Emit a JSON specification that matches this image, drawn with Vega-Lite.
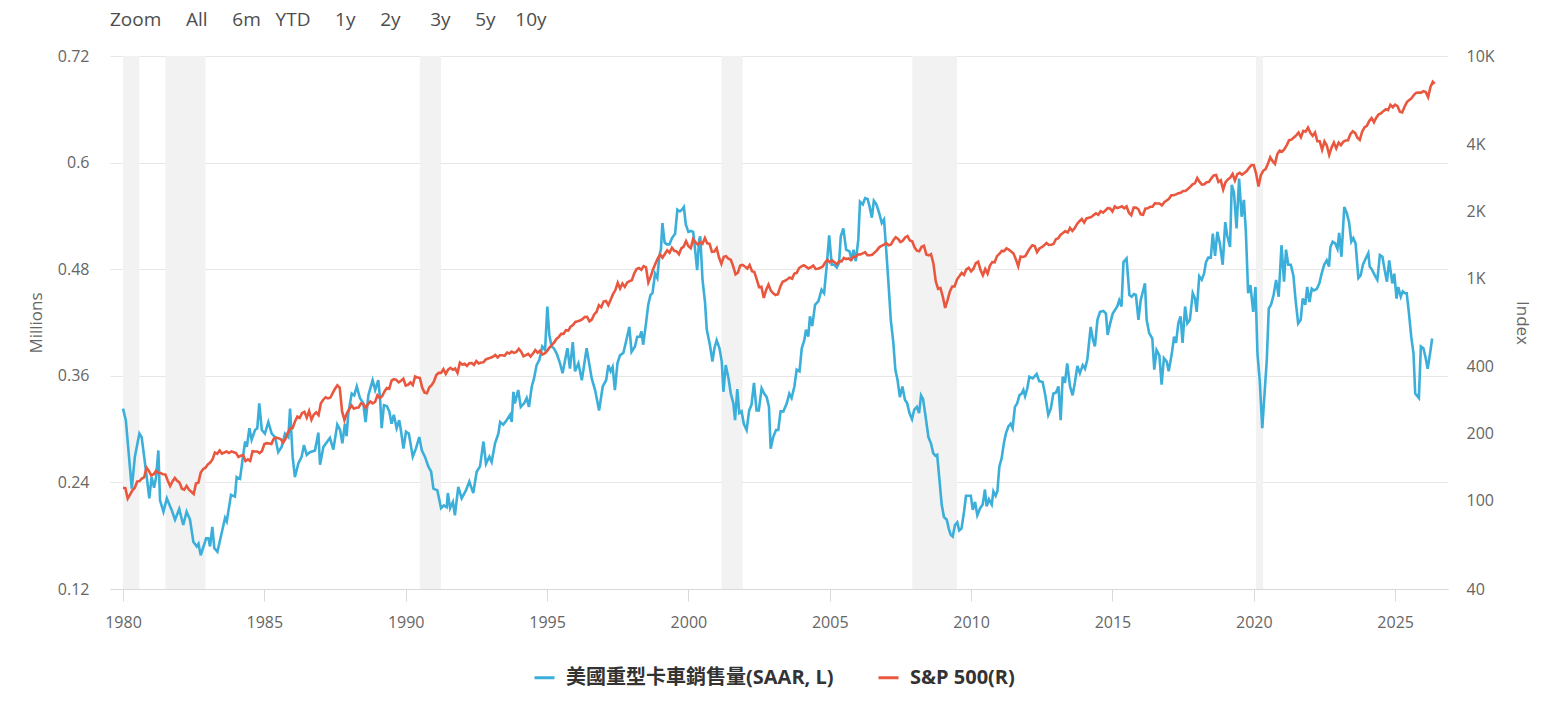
{
  "$schema": "https://vega.github.io/schema/vega-lite/v6.json",
  "width": 1338,
  "height": 533,
  "autosize": {"type": "none"},
  "padding": {"left": 110, "top": 56, "right": 101, "bottom": 119},
  "background": "white",
  "config": {
    "view": {"stroke": null},
    "font": "Open Sans",
    "axis": {
      "labelFont": "Open Sans",
      "titleFont": "Open Sans",
      "labelColor": "#666666",
      "titleColor": "#666666",
      "labelFontSize": 16,
      "titleFontSize": 17,
      "titleFontWeight": "normal"
    }
  },
  "title": {
    "text": "Zoom\u00a0\u00a0\u00a0\u00a0\u00a0All\u00a0\u00a0\u00a0\u00a0\u00a06m\u00a0\u00a0\u00a0YTD\u00a0\u00a0\u00a0\u00a0\u00a01y\u00a0\u00a0\u00a0\u00a0\u00a02y\u00a0\u00a0\u00a0\u00a0\u00a0\u00a03y\u00a0\u00a0\u00a0\u00a0\u00a05y\u00a0\u00a0\u00a0\u00a010y",
    "anchor": "start",
    "frame": "group",
    "font": "Open Sans",
    "fontSize": 19,
    "fontWeight": "normal",
    "color": "#4d4d4d",
    "offset": 18
  },
  "datasets": {
    "rec": [
      {"s": 1980.0, "e": 1980.58},
      {"s": 1981.5, "e": 1982.92},
      {"s": 1990.5, "e": 1991.25},
      {"s": 2001.17, "e": 2001.92},
      {"s": 2007.92, "e": 2009.5},
      {"s": 2020.08, "e": 2020.33}
    ],
    "truck": [
      {"t":1980.00,"v":0.323},{"t":1980.10,"v":0.310},{"t":1980.31,"v":0.233},{"t":1980.42,"v":0.269},{"t":1980.58,"v":0.295},{"t":1980.66,"v":0.291},{"t":1980.84,"v":0.246},{"t":1980.93,"v":0.222},{"t":1981.01,"v":0.246},{"t":1981.10,"v":0.234},{"t":1981.17,"v":0.246},{"t":1981.25,"v":0.276},{"t":1981.31,"v":0.220},{"t":1981.43,"v":0.207},{"t":1981.55,"v":0.222},{"t":1981.72,"v":0.209},{"t":1981.84,"v":0.198},{"t":1981.99,"v":0.210},{"t":1982.13,"v":0.192},{"t":1982.25,"v":0.207},{"t":1982.37,"v":0.198},{"t":1982.49,"v":0.173},{"t":1982.61,"v":0.168},{"t":1982.67,"v":0.171},{"t":1982.75,"v":0.158},{"t":1982.94,"v":0.177},{"t":1983.02,"v":0.177},{"t":1983.08,"v":0.168},{"t":1983.16,"v":0.190},{"t":1983.23,"v":0.166},{"t":1983.34,"v":0.162},{"t":1983.49,"v":0.183},{"t":1983.61,"v":0.200},{"t":1983.67,"v":0.196},{"t":1983.82,"v":0.226},{"t":1983.96,"v":0.224},
      {"t":1984.02,"v":0.246},{"t":1984.14,"v":0.244},{"t":1984.23,"v":0.266},{"t":1984.32,"v":0.286},{"t":1984.38,"v":0.280},{"t":1984.47,"v":0.301},{"t":1984.55,"v":0.288},{"t":1984.67,"v":0.299},{"t":1984.75,"v":0.301},{"t":1984.82,"v":0.329},{"t":1984.91,"v":0.299},{"t":1985.02,"v":0.295},{"t":1985.14,"v":0.308},{"t":1985.26,"v":0.295},{"t":1985.38,"v":0.291},{"t":1985.49,"v":0.274},{"t":1985.61,"v":0.280},{"t":1985.73,"v":0.295},{"t":1985.85,"v":0.291},{"t":1985.91,"v":0.323},{"t":1986.00,"v":0.269},{"t":1986.08,"v":0.246},{"t":1986.20,"v":0.261},{"t":1986.32,"v":0.269},{"t":1986.40,"v":0.282},{"t":1986.50,"v":0.271},{"t":1986.61,"v":0.274},{"t":1986.79,"v":0.276},{"t":1986.91,"v":0.296},{"t":1986.97,"v":0.260},{"t":1987.09,"v":0.280},{"t":1987.32,"v":0.290},{"t":1987.44,"v":0.277},{"t":1987.58,"v":0.305},{"t":1987.68,"v":0.299},
      {"t":1987.76,"v":0.284},{"t":1987.85,"v":0.306},{"t":1987.91,"v":0.292},{"t":1987.97,"v":0.318},{"t":1988.09,"v":0.340},{"t":1988.18,"v":0.338},{"t":1988.27,"v":0.348},{"t":1988.38,"v":0.335},{"t":1988.50,"v":0.329},{"t":1988.58,"v":0.308},{"t":1988.68,"v":0.338},{"t":1988.83,"v":0.355},{"t":1988.92,"v":0.344},{"t":1989.03,"v":0.355},{"t":1989.09,"v":0.336},{"t":1989.15,"v":0.301},{"t":1989.23,"v":0.327},{"t":1989.33,"v":0.326},{"t":1989.42,"v":0.320},{"t":1989.50,"v":0.306},{"t":1989.58,"v":0.316},{"t":1989.68,"v":0.301},{"t":1989.77,"v":0.310},{"t":1989.83,"v":0.299},{"t":1989.92,"v":0.278},{"t":1990.01,"v":0.297},{"t":1990.11,"v":0.295},{"t":1990.25,"v":0.269},{"t":1990.36,"v":0.278},{"t":1990.48,"v":0.291},{"t":1990.57,"v":0.276},{"t":1990.68,"v":0.269},{"t":1990.80,"v":0.258},{"t":1990.90,"v":0.252},{"t":1990.98,"v":0.233},{"t":1991.12,"v":0.231},{"t":1991.25,"v":0.211},{"t":1991.35,"v":0.214},{"t":1991.45,"v":0.212},{"t":1991.49,"v":0.228},{"t":1991.57,"v":0.211},{"t":1991.67,"v":0.218},{"t":1991.74,"v":0.203},{"t":1991.86,"v":0.235},{"t":1991.98,"v":0.222},
      {"t":1992.13,"v":0.231},{"t":1992.25,"v":0.241},{"t":1992.39,"v":0.228},{"t":1992.51,"v":0.252},{"t":1992.63,"v":0.258},{"t":1992.75,"v":0.286},{"t":1992.84,"v":0.261},{"t":1992.96,"v":0.269},{"t":1993.04,"v":0.263},{"t":1993.16,"v":0.284},{"t":1993.28,"v":0.295},{"t":1993.34,"v":0.308},{"t":1993.45,"v":0.305},{"t":1993.57,"v":0.310},{"t":1993.69,"v":0.316},{"t":1993.75,"v":0.308},{"t":1993.81,"v":0.342},{"t":1993.86,"v":0.329},{"t":1993.98,"v":0.344},{"t":1994.07,"v":0.325},{"t":1994.19,"v":0.329},{"t":1994.28,"v":0.335},{"t":1994.36,"v":0.325},{"t":1994.46,"v":0.348},{"t":1994.54,"v":0.357},{"t":1994.63,"v":0.372},{"t":1994.73,"v":0.378},{"t":1994.83,"v":0.393},{"t":1994.93,"v":0.389},{"t":1995.01,"v":0.438},{"t":1995.08,"v":0.406},{"t":1995.16,"v":0.393},{"t":1995.24,"v":0.391},{"t":1995.34,"v":0.385},{"t":1995.46,"v":0.374},{"t":1995.55,"v":0.363},{"t":1995.64,"v":0.378},{"t":1995.72,"v":0.391},{"t":1995.81,"v":0.368},{"t":1995.91,"v":0.398},{"t":1995.99,"v":0.365},
      {"t":1996.11,"v":0.374},{"t":1996.23,"v":0.355},{"t":1996.40,"v":0.391},{"t":1996.58,"v":0.357},{"t":1996.70,"v":0.344},{"t":1996.84,"v":0.321},{"t":1996.97,"v":0.348},{"t":1997.09,"v":0.355},{"t":1997.17,"v":0.372},{"t":1997.25,"v":0.365},{"t":1997.32,"v":0.370},{"t":1997.40,"v":0.344},{"t":1997.49,"v":0.374},{"t":1997.58,"v":0.383},{"t":1997.70,"v":0.386},{"t":1997.79,"v":0.398},{"t":1997.91,"v":0.415},{"t":1997.99,"v":0.387},{"t":1998.11,"v":0.393},{"t":1998.19,"v":0.404},{"t":1998.28,"v":0.404},{"t":1998.34,"v":0.410},{"t":1998.40,"v":0.395},{"t":1998.50,"v":0.419},{"t":1998.58,"v":0.440},{"t":1998.66,"v":0.451},{"t":1998.73,"v":0.453},{"t":1998.82,"v":0.475},{"t":1998.90,"v":0.470},{"t":1998.97,"v":0.494},{"t":1999.03,"v":0.503},{"t":1999.08,"v":0.532},{"t":1999.16,"v":0.510},{"t":1999.24,"v":0.508},{"t":1999.33,"v":0.508},{"t":1999.42,"v":0.515},{"t":1999.53,"v":0.520},{"t":1999.61,"v":0.547},{"t":1999.70,"v":0.545},{"t":1999.77,"v":0.547},{"t":1999.84,"v":0.550},{"t":1999.91,"v":0.530},
      {"t":2000.00,"v":0.522},{"t":2000.08,"v":0.523},{"t":2000.17,"v":0.522},{"t":2000.23,"v":0.504},{"t":2000.31,"v":0.479},{"t":2000.38,"v":0.513},{"t":2000.42,"v":0.517},{"t":2000.50,"v":0.468},{"t":2000.59,"v":0.442},{"t":2000.65,"v":0.412},{"t":2000.76,"v":0.395},{"t":2000.85,"v":0.376},{"t":2000.92,"v":0.391},{"t":2001.00,"v":0.400},{"t":2001.10,"v":0.391},{"t":2001.18,"v":0.376},{"t":2001.24,"v":0.342},{"t":2001.32,"v":0.372},{"t":2001.42,"v":0.357},{"t":2001.50,"v":0.340},{"t":2001.59,"v":0.329},{"t":2001.65,"v":0.310},{"t":2001.73,"v":0.345},{"t":2001.80,"v":0.318},{"t":2001.88,"v":0.320},{"t":2001.96,"v":0.306},{"t":2002.06,"v":0.299},{"t":2002.15,"v":0.321},{"t":2002.23,"v":0.327},{"t":2002.32,"v":0.352},{"t":2002.41,"v":0.321},{"t":2002.49,"v":0.321},{"t":2002.59,"v":0.346},{"t":2002.68,"v":0.340},{"t":2002.77,"v":0.336},{"t":2002.85,"v":0.325},{"t":2002.91,"v":0.278},{"t":2003.00,"v":0.291},{"t":2003.10,"v":0.299},{"t":2003.18,"v":0.299},{"t":2003.26,"v":0.320},{"t":2003.36,"v":0.320},{"t":2003.48,"v":0.329},{"t":2003.57,"v":0.340},{"t":2003.65,"v":0.335},{"t":2003.75,"v":0.348},{"t":2003.83,"v":0.367},{"t":2003.93,"v":0.365},
      {"t":2004.01,"v":0.391},{"t":2004.10,"v":0.400},{"t":2004.16,"v":0.412},{"t":2004.24,"v":0.404},{"t":2004.30,"v":0.427},{"t":2004.38,"v":0.416},{"t":2004.48,"v":0.440},{"t":2004.60,"v":0.444},{"t":2004.71,"v":0.457},{"t":2004.80,"v":0.453},{"t":2004.89,"v":0.483},{"t":2004.98,"v":0.518},{"t":2005.07,"v":0.485},{"t":2005.16,"v":0.485},{"t":2005.25,"v":0.482},{"t":2005.33,"v":0.487},{"t":2005.39,"v":0.517},{"t":2005.48,"v":0.526},{"t":2005.58,"v":0.502},{"t":2005.70,"v":0.500},{"t":2005.78,"v":0.490},{"t":2005.84,"v":0.502},{"t":2005.92,"v":0.489},{"t":2006.01,"v":0.513},{"t":2006.07,"v":0.556},{"t":2006.17,"v":0.553},{"t":2006.25,"v":0.560},{"t":2006.34,"v":0.559},{"t":2006.42,"v":0.549},{"t":2006.49,"v":0.538},{"t":2006.56,"v":0.557},{"t":2006.65,"v":0.553},{"t":2006.75,"v":0.543},{"t":2006.84,"v":0.532},{"t":2006.92,"v":0.536},{"t":2006.99,"v":0.505},{"t":2007.07,"v":0.468},{"t":2007.16,"v":0.423},{"t":2007.25,"v":0.397},{"t":2007.32,"v":0.367},{"t":2007.40,"v":0.355},{"t":2007.48,"v":0.336},{"t":2007.57,"v":0.348},{"t":2007.66,"v":0.333},{"t":2007.74,"v":0.329},{"t":2007.82,"v":0.318},{"t":2007.91,"v":0.311},{"t":2007.99,"v":0.322},
      {"t":2008.08,"v":0.325},{"t":2008.16,"v":0.318},{"t":2008.23,"v":0.338},{"t":2008.30,"v":0.334},{"t":2008.40,"v":0.312},{"t":2008.49,"v":0.291},{"t":2008.58,"v":0.284},{"t":2008.66,"v":0.273},{"t":2008.74,"v":0.270},{"t":2008.80,"v":0.271},{"t":2008.88,"v":0.243},{"t":2008.96,"v":0.215},{"t":2009.04,"v":0.201},{"t":2009.14,"v":0.198},{"t":2009.21,"v":0.188},{"t":2009.28,"v":0.181},{"t":2009.35,"v":0.179},{"t":2009.43,"v":0.192},{"t":2009.51,"v":0.195},{"t":2009.58,"v":0.186},{"t":2009.66,"v":0.188},{"t":2009.75,"v":0.207},{"t":2009.82,"v":0.225},{"t":2009.90,"v":0.225},{"t":2009.99,"v":0.225},{"t":2010.06,"v":0.209},{"t":2010.14,"v":0.218},{"t":2010.22,"v":0.203},{"t":2010.32,"v":0.211},{"t":2010.41,"v":0.215},{"t":2010.49,"v":0.232},{"t":2010.55,"v":0.213},{"t":2010.63,"v":0.221},{"t":2010.73,"v":0.215},{"t":2010.79,"v":0.230},{"t":2010.87,"v":0.225},{"t":2010.93,"v":0.230},{"t":2011.00,"v":0.258},{"t":2011.08,"v":0.267},{"t":2011.16,"v":0.284},{"t":2011.23,"v":0.295},{"t":2011.32,"v":0.303},{"t":2011.40,"v":0.306},{"t":2011.47,"v":0.301},{"t":2011.55,"v":0.325},{"t":2011.63,"v":0.329},{"t":2011.71,"v":0.338},{"t":2011.79,"v":0.340},{"t":2011.85,"v":0.344},{"t":2011.91,"v":0.337},{"t":2011.99,"v":0.346},
      {"t":2012.06,"v":0.359},{"t":2012.18,"v":0.357},{"t":2012.32,"v":0.362},{"t":2012.41,"v":0.354},{"t":2012.53,"v":0.353},{"t":2012.62,"v":0.339},{"t":2012.73,"v":0.316},{"t":2012.82,"v":0.323},{"t":2012.91,"v":0.340},{"t":2013.00,"v":0.341},{"t":2013.09,"v":0.348},{"t":2013.17,"v":0.310},{"t":2013.24,"v":0.359},{"t":2013.32,"v":0.352},{"t":2013.40,"v":0.374},{"t":2013.50,"v":0.348},{"t":2013.59,"v":0.338},{"t":2013.67,"v":0.352},{"t":2013.76,"v":0.371},{"t":2013.85,"v":0.363},{"t":2013.95,"v":0.372},{"t":2014.03,"v":0.368},{"t":2014.11,"v":0.378},{"t":2014.23,"v":0.415},{"t":2014.31,"v":0.401},{"t":2014.38,"v":0.393},{"t":2014.47,"v":0.423},{"t":2014.56,"v":0.432},{"t":2014.68,"v":0.433},{"t":2014.77,"v":0.430},{"t":2014.83,"v":0.406},{"t":2014.92,"v":0.419},{"t":2015.01,"v":0.430},{"t":2015.09,"v":0.434},{"t":2015.17,"v":0.438},{"t":2015.24,"v":0.445},{"t":2015.32,"v":0.438},{"t":2015.39,"v":0.488},{"t":2015.50,"v":0.492},{"t":2015.60,"v":0.451},{"t":2015.68,"v":0.449},{"t":2015.76,"v":0.452},{"t":2015.83,"v":0.451},{"t":2015.92,"v":0.423},
      {"t":2016.00,"v":0.445},{"t":2016.07,"v":0.454},{"t":2016.15,"v":0.464},{"t":2016.21,"v":0.423},{"t":2016.30,"v":0.408},{"t":2016.41,"v":0.402},{"t":2016.48,"v":0.367},{"t":2016.56,"v":0.389},{"t":2016.66,"v":0.383},{"t":2016.74,"v":0.350},{"t":2016.82,"v":0.380},{"t":2016.92,"v":0.376},{"t":2016.99,"v":0.365},{"t":2017.10,"v":0.385},{"t":2017.18,"v":0.404},{"t":2017.25,"v":0.397},{"t":2017.33,"v":0.419},{"t":2017.41,"v":0.427},{"t":2017.48,"v":0.397},{"t":2017.57,"v":0.438},{"t":2017.65,"v":0.419},{"t":2017.74,"v":0.423},{"t":2017.84,"v":0.453},{"t":2017.92,"v":0.447},{"t":2017.98,"v":0.432},{"t":2018.07,"v":0.472},{"t":2018.16,"v":0.468},{"t":2018.24,"v":0.475},{"t":2018.31,"v":0.488},{"t":2018.39,"v":0.493},{"t":2018.48,"v":0.493},{"t":2018.55,"v":0.520},{"t":2018.63,"v":0.495},{"t":2018.71,"v":0.522},{"t":2018.80,"v":0.509},{"t":2018.90,"v":0.485},{"t":2018.99,"v":0.533},{"t":2019.06,"v":0.518},{"t":2019.16,"v":0.505},
      {"t":2019.22,"v":0.575},{"t":2019.30,"v":0.566},{"t":2019.39,"v":0.526},{"t":2019.48,"v":0.582},{"t":2019.57,"v":0.539},{"t":2019.65,"v":0.558},{"t":2019.72,"v":0.522},{"t":2019.80,"v":0.453},{"t":2019.88,"v":0.462},{"t":2019.98,"v":0.432},{"t":2020.06,"v":0.460},{"t":2020.13,"v":0.385},{"t":2020.21,"v":0.355},{"t":2020.30,"v":0.301},{"t":2020.38,"v":0.340},{"t":2020.46,"v":0.378},{"t":2020.53,"v":0.436},{"t":2020.61,"v":0.440},{"t":2020.70,"v":0.451},{"t":2020.79,"v":0.468},{"t":2020.88,"v":0.449},{"t":2020.98,"v":0.507},{"t":2021.07,"v":0.466},{"t":2021.14,"v":0.502},{"t":2021.22,"v":0.485},{"t":2021.31,"v":0.485},{"t":2021.40,"v":0.473},{"t":2021.48,"v":0.445},{"t":2021.57,"v":0.419},{"t":2021.66,"v":0.423},{"t":2021.73,"v":0.447},{"t":2021.82,"v":0.440},{"t":2021.89,"v":0.460},{"t":2021.97,"v":0.443},{"t":2022.05,"v":0.458},{"t":2022.13,"v":0.456},{"t":2022.23,"v":0.458},{"t":2022.32,"v":0.464},{"t":2022.40,"v":0.475},{"t":2022.49,"v":0.485},{"t":2022.58,"v":0.490},{"t":2022.66,"v":0.483},{"t":2022.71,"v":0.505},{"t":2022.79,"v":0.511},{"t":2022.88,"v":0.509},{"t":2022.96,"v":0.503},
      {"t":2023.02,"v":0.521},{"t":2023.10,"v":0.494},{"t":2023.20,"v":0.550},{"t":2023.29,"v":0.543},{"t":2023.37,"v":0.533},{"t":2023.45,"v":0.511},{"t":2023.52,"v":0.515},{"t":2023.60,"v":0.509},{"t":2023.70,"v":0.470},{"t":2023.78,"v":0.473},{"t":2023.86,"v":0.485},{"t":2023.96,"v":0.492},{"t":2024.05,"v":0.498},{"t":2024.10,"v":0.483},{"t":2024.19,"v":0.479},{"t":2024.28,"v":0.473},{"t":2024.37,"v":0.468},{"t":2024.46,"v":0.496},{"t":2024.55,"v":0.494},{"t":2024.63,"v":0.479},{"t":2024.71,"v":0.466},{"t":2024.79,"v":0.490},{"t":2024.90,"v":0.464},{"t":2024.97,"v":0.475},{"t":2025.05,"v":0.447},{"t":2025.11,"v":0.460},{"t":2025.20,"v":0.449},{"t":2025.27,"v":0.455},{"t":2025.35,"v":0.453},{"t":2025.41,"v":0.453},{"t":2025.49,"v":0.430},{"t":2025.57,"v":0.404},{"t":2025.65,"v":0.385},{"t":2025.71,"v":0.340},{"t":2025.84,"v":0.335},{"t":2025.91,"v":0.393},{"t":2026.00,"v":0.391},{"t":2026.08,"v":0.380},{"t":2026.15,"v":0.368},{"t":2026.23,"v":0.384},{"t":2026.31,"v":0.402}
    ],
    "spx": [
      {"t":1980.000,"v":114.2},{"t":1980.083,"v":113.7},{"t":1980.167,"v":102.1},{"t":1980.250,"v":106.3},{"t":1980.333,"v":111.2},{"t":1980.417,"v":114.2},{"t":1980.500,"v":121.7},{"t":1980.583,"v":122.4},{"t":1980.667,"v":125.5},{"t":1980.750,"v":127.5},{"t":1980.833,"v":140.5},{"t":1980.917,"v":135.8},
      {"t":1981.000,"v":129.6},{"t":1981.083,"v":131.3},{"t":1981.167,"v":136.0},{"t":1981.250,"v":133.0},{"t":1981.333,"v":133.0},{"t":1981.417,"v":131.2},{"t":1981.500,"v":130.9},{"t":1981.583,"v":122.8},{"t":1981.667,"v":116.2},{"t":1981.750,"v":121.9},{"t":1981.833,"v":126.4},{"t":1981.917,"v":122.6},
      {"t":1982.000,"v":120.4},{"t":1982.083,"v":113.1},{"t":1982.167,"v":112.0},{"t":1982.250,"v":116.4},{"t":1982.333,"v":111.9},{"t":1982.417,"v":109.6},{"t":1982.500,"v":107.1},{"t":1982.583,"v":119.5},{"t":1982.667,"v":120.4},{"t":1982.750,"v":133.7},{"t":1982.833,"v":138.5},{"t":1982.917,"v":140.6},
      {"t":1983.000,"v":145.3},{"t":1983.083,"v":148.1},{"t":1983.167,"v":153.0},{"t":1983.250,"v":164.4},{"t":1983.333,"v":162.4},{"t":1983.417,"v":168.1},{"t":1983.500,"v":162.6},{"t":1983.583,"v":164.4},{"t":1983.667,"v":166.1},{"t":1983.750,"v":163.6},{"t":1983.833,"v":166.4},{"t":1983.917,"v":164.9},
      {"t":1984.000,"v":163.4},{"t":1984.083,"v":157.1},{"t":1984.167,"v":159.2},{"t":1984.250,"v":160.1},{"t":1984.333,"v":150.6},{"t":1984.417,"v":153.2},{"t":1984.500,"v":150.7},{"t":1984.583,"v":166.7},{"t":1984.667,"v":166.1},{"t":1984.750,"v":166.1},{"t":1984.833,"v":163.6},{"t":1984.917,"v":167.2},
      {"t":1985.000,"v":179.6},{"t":1985.083,"v":181.2},{"t":1985.167,"v":180.7},{"t":1985.250,"v":179.8},{"t":1985.333,"v":189.6},{"t":1985.417,"v":191.9},{"t":1985.500,"v":190.9},{"t":1985.583,"v":188.6},{"t":1985.667,"v":182.1},{"t":1985.750,"v":189.8},{"t":1985.833,"v":202.2},{"t":1985.917,"v":211.3},
      {"t":1986.000,"v":211.8},{"t":1986.083,"v":226.9},{"t":1986.167,"v":238.9},{"t":1986.250,"v":235.5},{"t":1986.333,"v":247.4},{"t":1986.417,"v":250.8},{"t":1986.500,"v":236.1},{"t":1986.583,"v":252.9},{"t":1986.667,"v":231.3},{"t":1986.750,"v":244.0},{"t":1986.833,"v":249.2},{"t":1986.917,"v":242.2},
      {"t":1987.000,"v":274.1},{"t":1987.083,"v":284.2},{"t":1987.167,"v":291.7},{"t":1987.250,"v":288.4},{"t":1987.333,"v":290.1},{"t":1987.417,"v":304.0},{"t":1987.500,"v":318.7},{"t":1987.583,"v":329.8},{"t":1987.667,"v":321.8},{"t":1987.750,"v":251.8},{"t":1987.833,"v":230.3},{"t":1987.917,"v":247.1},
      {"t":1988.000,"v":257.1},{"t":1988.083,"v":267.8},{"t":1988.167,"v":258.9},{"t":1988.250,"v":261.3},{"t":1988.333,"v":262.2},{"t":1988.417,"v":273.5},{"t":1988.500,"v":272.0},{"t":1988.583,"v":261.5},{"t":1988.667,"v":271.9},{"t":1988.750,"v":279.0},{"t":1988.833,"v":273.7},{"t":1988.917,"v":277.7},
      {"t":1989.000,"v":297.5},{"t":1989.083,"v":288.9},{"t":1989.167,"v":294.9},{"t":1989.250,"v":309.6},{"t":1989.333,"v":320.5},{"t":1989.417,"v":318.0},{"t":1989.500,"v":346.1},{"t":1989.583,"v":351.5},{"t":1989.667,"v":349.2},{"t":1989.750,"v":340.4},{"t":1989.833,"v":346.0},{"t":1989.917,"v":353.4},
      {"t":1990.000,"v":329.1},{"t":1990.083,"v":331.9},{"t":1990.167,"v":339.9},{"t":1990.250,"v":330.8},{"t":1990.333,"v":361.2},{"t":1990.417,"v":358.0},{"t":1990.500,"v":356.2},{"t":1990.583,"v":322.6},{"t":1990.667,"v":306.1},{"t":1990.750,"v":304.0},{"t":1990.833,"v":322.2},{"t":1990.917,"v":330.2},
      {"t":1991.000,"v":343.9},{"t":1991.083,"v":367.1},{"t":1991.167,"v":375.2},{"t":1991.250,"v":375.3},{"t":1991.333,"v":389.8},{"t":1991.417,"v":371.2},{"t":1991.500,"v":387.8},{"t":1991.583,"v":395.4},{"t":1991.667,"v":387.9},{"t":1991.750,"v":392.5},{"t":1991.833,"v":375.2},{"t":1991.917,"v":417.1},
      {"t":1992.000,"v":408.8},{"t":1992.083,"v":412.7},{"t":1992.167,"v":403.7},{"t":1992.250,"v":415.0},{"t":1992.333,"v":415.4},{"t":1992.417,"v":408.1},{"t":1992.500,"v":424.2},{"t":1992.583,"v":414.0},{"t":1992.667,"v":417.8},{"t":1992.750,"v":418.7},{"t":1992.833,"v":431.4},{"t":1992.917,"v":435.7},
      {"t":1993.000,"v":438.8},{"t":1993.083,"v":443.4},{"t":1993.167,"v":451.7},{"t":1993.250,"v":440.2},{"t":1993.333,"v":450.2},{"t":1993.417,"v":450.5},{"t":1993.500,"v":448.1},{"t":1993.583,"v":463.6},{"t":1993.667,"v":458.9},{"t":1993.750,"v":467.8},{"t":1993.833,"v":461.8},{"t":1993.917,"v":466.5},
      {"t":1994.000,"v":481.6},{"t":1994.083,"v":467.1},{"t":1994.167,"v":445.8},{"t":1994.250,"v":450.9},{"t":1994.333,"v":456.5},{"t":1994.417,"v":444.3},{"t":1994.500,"v":458.3},{"t":1994.583,"v":475.5},{"t":1994.667,"v":462.7},{"t":1994.750,"v":472.4},{"t":1994.833,"v":453.7},{"t":1994.917,"v":459.3},
      {"t":1995.000,"v":470.4},{"t":1995.083,"v":487.4},{"t":1995.167,"v":500.7},{"t":1995.250,"v":514.7},{"t":1995.333,"v":533.4},{"t":1995.417,"v":544.8},{"t":1995.500,"v":562.1},{"t":1995.583,"v":561.9},{"t":1995.667,"v":584.4},{"t":1995.750,"v":581.5},{"t":1995.833,"v":605.4},{"t":1995.917,"v":615.9},
      {"t":1996.000,"v":636.0},{"t":1996.083,"v":640.4},{"t":1996.167,"v":645.5},{"t":1996.250,"v":654.2},{"t":1996.333,"v":669.1},{"t":1996.417,"v":670.6},{"t":1996.500,"v":640.0},{"t":1996.583,"v":652.0},{"t":1996.667,"v":687.3},{"t":1996.750,"v":705.3},{"t":1996.833,"v":757.0},{"t":1996.917,"v":740.7},
      {"t":1997.000,"v":786.2},{"t":1997.083,"v":790.8},{"t":1997.167,"v":757.1},{"t":1997.250,"v":801.3},{"t":1997.333,"v":848.3},{"t":1997.417,"v":885.1},{"t":1997.500,"v":954.3},{"t":1997.583,"v":899.5},{"t":1997.667,"v":947.3},{"t":1997.750,"v":914.6},{"t":1997.833,"v":955.4},{"t":1997.917,"v":970.4},
      {"t":1998.000,"v":980.3},{"t":1998.083,"v":1049.3},{"t":1998.167,"v":1101.8},{"t":1998.250,"v":1111.8},{"t":1998.333,"v":1090.8},{"t":1998.417,"v":1133.8},{"t":1998.500,"v":1120.7},{"t":1998.583,"v":957.3},{"t":1998.667,"v":1017.0},{"t":1998.750,"v":1098.7},{"t":1998.833,"v":1163.6},{"t":1998.917,"v":1229.2},
      {"t":1999.000,"v":1279.6},{"t":1999.083,"v":1238.3},{"t":1999.167,"v":1286.4},{"t":1999.250,"v":1335.2},{"t":1999.333,"v":1301.8},{"t":1999.417,"v":1372.7},{"t":1999.500,"v":1328.7},{"t":1999.583,"v":1320.4},{"t":1999.667,"v":1282.7},{"t":1999.750,"v":1362.9},{"t":1999.833,"v":1388.9},{"t":1999.917,"v":1469.3},
      {"t":2000.000,"v":1394.5},{"t":2000.083,"v":1366.4},{"t":2000.167,"v":1498.6},{"t":2000.250,"v":1452.4},{"t":2000.333,"v":1420.6},{"t":2000.417,"v":1454.6},{"t":2000.500,"v":1430.8},{"t":2000.583,"v":1517.7},{"t":2000.667,"v":1436.5},{"t":2000.750,"v":1429.4},{"t":2000.833,"v":1315.0},{"t":2000.917,"v":1320.3},
      {"t":2001.000,"v":1366.0},{"t":2001.083,"v":1239.9},{"t":2001.167,"v":1160.3},{"t":2001.250,"v":1249.5},{"t":2001.333,"v":1255.8},{"t":2001.417,"v":1224.4},{"t":2001.500,"v":1211.2},{"t":2001.583,"v":1133.6},{"t":2001.667,"v":1040.9},{"t":2001.750,"v":1059.8},{"t":2001.833,"v":1139.5},{"t":2001.917,"v":1148.1},
      {"t":2002.000,"v":1130.2},{"t":2002.083,"v":1106.7},{"t":2002.167,"v":1147.4},{"t":2002.250,"v":1076.9},{"t":2002.333,"v":1067.1},{"t":2002.417,"v":989.8},{"t":2002.500,"v":911.6},{"t":2002.583,"v":916.1},{"t":2002.667,"v":815.3},{"t":2002.750,"v":885.8},{"t":2002.833,"v":936.3},{"t":2002.917,"v":879.8},
      {"t":2003.000,"v":855.7},{"t":2003.083,"v":841.2},{"t":2003.167,"v":848.2},{"t":2003.250,"v":916.9},{"t":2003.333,"v":963.6},{"t":2003.417,"v":974.5},{"t":2003.500,"v":990.3},{"t":2003.583,"v":1008.0},{"t":2003.667,"v":996.0},{"t":2003.750,"v":1050.7},{"t":2003.833,"v":1058.2},{"t":2003.917,"v":1111.9},
      {"t":2004.000,"v":1131.1},{"t":2004.083,"v":1144.9},{"t":2004.167,"v":1126.2},{"t":2004.250,"v":1107.3},{"t":2004.333,"v":1120.7},{"t":2004.417,"v":1140.8},{"t":2004.500,"v":1101.7},{"t":2004.583,"v":1104.2},{"t":2004.667,"v":1114.6},{"t":2004.750,"v":1130.2},{"t":2004.833,"v":1173.8},{"t":2004.917,"v":1211.9},
      {"t":2005.000,"v":1181.3},{"t":2005.083,"v":1203.6},{"t":2005.167,"v":1180.6},{"t":2005.250,"v":1156.9},{"t":2005.333,"v":1191.5},{"t":2005.417,"v":1191.3},{"t":2005.500,"v":1234.2},{"t":2005.583,"v":1220.3},{"t":2005.667,"v":1228.8},{"t":2005.750,"v":1207.0},{"t":2005.833,"v":1249.5},{"t":2005.917,"v":1248.3},
      {"t":2006.000,"v":1280.1},{"t":2006.083,"v":1280.7},{"t":2006.167,"v":1294.9},{"t":2006.250,"v":1310.6},{"t":2006.333,"v":1270.1},{"t":2006.417,"v":1270.2},{"t":2006.500,"v":1276.7},{"t":2006.583,"v":1303.8},{"t":2006.667,"v":1335.9},{"t":2006.750,"v":1377.9},{"t":2006.833,"v":1400.6},{"t":2006.917,"v":1418.3},
      {"t":2007.000,"v":1438.2},{"t":2007.083,"v":1406.8},{"t":2007.167,"v":1420.9},{"t":2007.250,"v":1482.4},{"t":2007.333,"v":1530.6},{"t":2007.417,"v":1503.4},{"t":2007.500,"v":1455.3},{"t":2007.583,"v":1474.0},{"t":2007.667,"v":1526.8},{"t":2007.750,"v":1549.4},{"t":2007.833,"v":1481.1},{"t":2007.917,"v":1468.4},
      {"t":2008.000,"v":1378.6},{"t":2008.083,"v":1330.6},{"t":2008.167,"v":1322.7},{"t":2008.250,"v":1385.6},{"t":2008.333,"v":1400.4},{"t":2008.417,"v":1280.0},{"t":2008.500,"v":1267.4},{"t":2008.583,"v":1282.8},{"t":2008.667,"v":1166.4},{"t":2008.750,"v":968.8},{"t":2008.833,"v":896.2},{"t":2008.917,"v":903.3},
      {"t":2009.000,"v":825.9},{"t":2009.083,"v":735.1},{"t":2009.167,"v":797.9},{"t":2009.250,"v":872.8},{"t":2009.333,"v":919.1},{"t":2009.417,"v":919.3},{"t":2009.500,"v":987.5},{"t":2009.583,"v":1020.6},{"t":2009.667,"v":1057.1},{"t":2009.750,"v":1036.2},{"t":2009.833,"v":1095.6},{"t":2009.917,"v":1115.1},
      {"t":2010.000,"v":1073.9},{"t":2010.083,"v":1104.5},{"t":2010.167,"v":1169.4},{"t":2010.250,"v":1186.7},{"t":2010.333,"v":1089.4},{"t":2010.417,"v":1030.7},{"t":2010.500,"v":1101.6},{"t":2010.583,"v":1049.3},{"t":2010.667,"v":1141.2},{"t":2010.750,"v":1183.3},{"t":2010.833,"v":1180.6},{"t":2010.917,"v":1257.6},
      {"t":2011.000,"v":1286.1},{"t":2011.083,"v":1327.2},{"t":2011.167,"v":1325.8},{"t":2011.250,"v":1363.6},{"t":2011.333,"v":1345.2},{"t":2011.417,"v":1320.6},{"t":2011.500,"v":1292.3},{"t":2011.583,"v":1218.9},{"t":2011.667,"v":1131.4},{"t":2011.750,"v":1253.3},{"t":2011.833,"v":1247.0},{"t":2011.917,"v":1257.6},
      {"t":2012.000,"v":1312.4},{"t":2012.083,"v":1365.7},{"t":2012.167,"v":1408.5},{"t":2012.250,"v":1397.9},{"t":2012.333,"v":1310.3},{"t":2012.417,"v":1362.2},{"t":2012.500,"v":1379.3},{"t":2012.583,"v":1406.6},{"t":2012.667,"v":1440.7},{"t":2012.750,"v":1412.2},{"t":2012.833,"v":1416.2},{"t":2012.917,"v":1426.2},
      {"t":2013.000,"v":1498.1},{"t":2013.083,"v":1514.7},{"t":2013.167,"v":1569.2},{"t":2013.250,"v":1597.6},{"t":2013.333,"v":1630.7},{"t":2013.417,"v":1606.3},{"t":2013.500,"v":1685.7},{"t":2013.583,"v":1633.0},{"t":2013.667,"v":1681.6},{"t":2013.750,"v":1756.5},{"t":2013.833,"v":1805.8},{"t":2013.917,"v":1848.4},
      {"t":2014.000,"v":1782.6},{"t":2014.083,"v":1859.5},{"t":2014.167,"v":1872.3},{"t":2014.250,"v":1884.0},{"t":2014.333,"v":1923.6},{"t":2014.417,"v":1960.2},{"t":2014.500,"v":1930.7},{"t":2014.583,"v":2003.4},{"t":2014.667,"v":1972.3},{"t":2014.750,"v":2018.1},{"t":2014.833,"v":2067.6},{"t":2014.917,"v":2058.9},
      {"t":2015.000,"v":1995.0},{"t":2015.083,"v":2104.5},{"t":2015.167,"v":2067.9},{"t":2015.250,"v":2085.5},{"t":2015.333,"v":2107.4},{"t":2015.417,"v":2063.1},{"t":2015.500,"v":2103.8},{"t":2015.583,"v":1972.2},{"t":2015.667,"v":1920.0},{"t":2015.750,"v":2079.4},{"t":2015.833,"v":2080.4},{"t":2015.917,"v":2043.9},
      {"t":2016.000,"v":1940.2},{"t":2016.083,"v":1932.2},{"t":2016.167,"v":2059.7},{"t":2016.250,"v":2065.3},{"t":2016.333,"v":2097.0},{"t":2016.417,"v":2098.9},{"t":2016.500,"v":2173.6},{"t":2016.583,"v":2171.0},{"t":2016.667,"v":2168.3},{"t":2016.750,"v":2126.2},{"t":2016.833,"v":2199.0},{"t":2016.917,"v":2238.8},
      {"t":2017.000,"v":2278.9},{"t":2017.083,"v":2363.6},{"t":2017.167,"v":2362.7},{"t":2017.250,"v":2384.2},{"t":2017.333,"v":2411.8},{"t":2017.417,"v":2423.4},{"t":2017.500,"v":2470.3},{"t":2017.583,"v":2471.7},{"t":2017.667,"v":2519.4},{"t":2017.750,"v":2575.3},{"t":2017.833,"v":2647.6},{"t":2017.917,"v":2673.6},
      {"t":2018.000,"v":2823.8},{"t":2018.083,"v":2713.8},{"t":2018.167,"v":2640.9},{"t":2018.250,"v":2648.1},{"t":2018.333,"v":2705.3},{"t":2018.417,"v":2718.4},{"t":2018.500,"v":2816.3},{"t":2018.583,"v":2901.5},{"t":2018.667,"v":2914.0},{"t":2018.750,"v":2711.7},{"t":2018.833,"v":2760.2},{"t":2018.917,"v":2506.9},
      {"t":2019.000,"v":2704.1},{"t":2019.083,"v":2784.5},{"t":2019.167,"v":2834.4},{"t":2019.250,"v":2945.8},{"t":2019.333,"v":2752.1},{"t":2019.417,"v":2941.8},{"t":2019.500,"v":2980.4},{"t":2019.583,"v":2926.5},{"t":2019.667,"v":2976.7},{"t":2019.750,"v":3037.6},{"t":2019.833,"v":3141.0},{"t":2019.917,"v":3230.8},
      {"t":2020.000,"v":3225.5},{"t":2020.083,"v":2954.2},{"t":2020.167,"v":2584.6},{"t":2020.250,"v":2912.4},{"t":2020.333,"v":3044.3},{"t":2020.417,"v":3100.3},{"t":2020.500,"v":3271.1},{"t":2020.583,"v":3500.3},{"t":2020.667,"v":3363.0},{"t":2020.750,"v":3270.0},{"t":2020.833,"v":3621.6},{"t":2020.917,"v":3756.1},
      {"t":2021.000,"v":3714.2},{"t":2021.083,"v":3811.2},{"t":2021.167,"v":3972.9},{"t":2021.250,"v":4181.2},{"t":2021.333,"v":4204.1},{"t":2021.417,"v":4297.5},{"t":2021.500,"v":4395.3},{"t":2021.583,"v":4522.7},{"t":2021.667,"v":4307.5},{"t":2021.750,"v":4605.4},{"t":2021.833,"v":4567.0},{"t":2021.917,"v":4766.2},
      {"t":2022.000,"v":4515.6},{"t":2022.083,"v":4373.9},{"t":2022.167,"v":4530.4},{"t":2022.250,"v":4131.9},{"t":2022.333,"v":4132.2},{"t":2022.417,"v":3785.4},{"t":2022.500,"v":4130.3},{"t":2022.583,"v":3955.0},{"t":2022.667,"v":3585.6},{"t":2022.750,"v":3872.0},{"t":2022.833,"v":4080.1},{"t":2022.917,"v":3839.5},
      {"t":2023.000,"v":4076.6},{"t":2023.083,"v":3970.2},{"t":2023.167,"v":4109.3},{"t":2023.250,"v":4169.5},{"t":2023.333,"v":4179.8},{"t":2023.417,"v":4450.4},{"t":2023.500,"v":4589.0},{"t":2023.583,"v":4507.7},{"t":2023.667,"v":4288.1},{"t":2023.750,"v":4193.8},{"t":2023.833,"v":4567.8},{"t":2023.917,"v":4769.8},
      {"t":2024.000,"v":4845.7},{"t":2024.083,"v":5096.3},{"t":2024.167,"v":5254.4},{"t":2024.250,"v":5035.7},{"t":2024.333,"v":5277.5},{"t":2024.417,"v":5460.5},{"t":2024.500,"v":5522.3},{"t":2024.583,"v":5648.4},{"t":2024.667,"v":5762.5},{"t":2024.750,"v":5705.5},{"t":2024.833,"v":6032.4},{"t":2024.917,"v":5881.6},
      {"t":2025.000,"v":6040.5},{"t":2025.083,"v":5954.5},{"t":2025.167,"v":5611.9},{"t":2025.250,"v":5569.1},{"t":2025.333,"v":5911.7},{"t":2025.417,"v":6205.0},{"t":2025.500,"v":6339.4},{"t":2025.583,"v":6460.3},{"t":2025.667,"v":6688.5},{"t":2025.750,"v":6840.2},{"t":2025.833,"v":6849.1},{"t":2025.917,"v":6845.5},
      {"t":2026.000,"v":6940.0},{"t":2026.083,"v":6880.0},{"t":2026.167,"v":6530.0},{"t":2026.250,"v":7250.0},{"t":2026.333,"v":7650.0},{"t":2026.400,"v":7500.0}
    ]
  },
  "layer": [
    {
      "data": {"name": "rec"},
      "mark": {"type": "rect", "color": "#f2f2f2"},
      "encoding": {
        "x": {
          "field": "s",
          "type": "quantitative",
          "scale": {"domain": [1979.54, 2026.87], "nice": false, "zero": false},
          "axis": {
            "values": [1980, 1985, 1990, 1995, 2000, 2005, 2010, 2015, 2020, 2025],
            "format": "d",
            "title": null,
            "grid": false,
            "domainColor": "#d9d9d9",
            "tickColor": "#d9d9d9",
            "tickSize": 12,
            "labelPadding": 13,
            "labelFontSize": 16
          }
        },
        "x2": {"field": "e"}
      }
    },
    {
      "data": {"name": "truck"},
      "mark": {"type": "line", "strokeWidth": 2.6},
      "encoding": {
        "x": {"field": "t", "type": "quantitative"},
        "y": {
          "field": "v",
          "type": "quantitative",
          "scale": {"domain": [0.12, 0.72], "nice": false, "zero": false},
          "axis": {
            "orient": "left",
            "values": [0.12, 0.24, 0.36, 0.48, 0.6, 0.72],
            "labelExpr": "format(datum.value, '.2~f')",
            "title": "Millions",
            "grid": true,
            "gridColor": "#e6e6e6",
            "ticks": false,
            "domain": false,
            "labelPadding": 21,
            "titlePadding": 12
          }
        },
        "color": {
          "datum": "美國重型卡車銷售量(SAAR, L)",
          "type": "nominal",
          "scale": {
            "domain": ["美國重型卡車銷售量(SAAR, L)", "S&P 500(R)"],
            "range": ["#3BAFDA", "#E9573F"]
          },
          "legend": {
            "title": null,
            "orient": "none",
            "legendX": 423,
            "legendY": 610,
            "direction": "horizontal",
            "symbolType": "stroke",
            "symbolSize": 400,
            "symbolStrokeWidth": 3,
            "labelFont": "Open Sans, Noto Sans CJK TC",
            "labelFontSize": 20,
            "labelFontWeight": "bold",
            "labelColor": "#333333",
            "labelOffset": 10,
            "columnPadding": 38,
            "labelLimit": 400
          }
        }
      }
    },
    {
      "data": {"name": "spx"},
      "mark": {"type": "line", "strokeWidth": 2.6},
      "encoding": {
        "x": {"field": "t", "type": "quantitative"},
        "y": {
          "field": "v",
          "type": "quantitative",
          "scale": {"type": "log", "domain": [40, 10000], "nice": false},
          "axis": {
            "orient": "right",
            "values": [40, 100, 200, 400, 1000, 2000, 4000, 10000],
            "labelExpr": "datum.value >= 1000 ? (datum.value / 1000) + 'K' : datum.value",
            "title": "Index",
            "grid": false,
            "ticks": false,
            "domain": false,
            "labelPadding": 18,
            "titlePadding": 18
          }
        },
        "color": {"datum": "S&P 500(R)", "type": "nominal"}
      }
    }
  ],
  "resolve": {"scale": {"y": "independent"}, "axis": {"y": "independent"}}
}
